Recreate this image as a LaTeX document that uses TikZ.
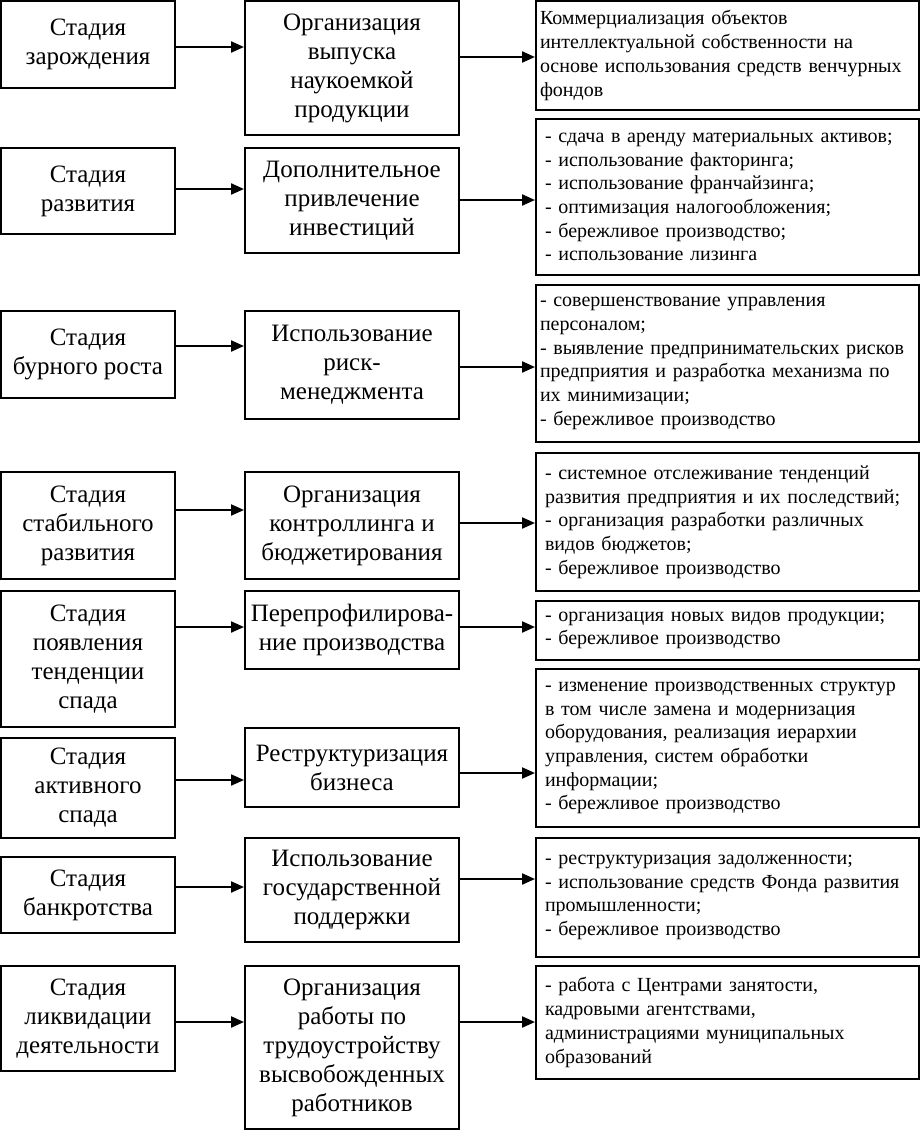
\documentclass[tikz,border=0pt]{standalone}
\usepackage{fontspec}
\setmainfont{Liberation Serif}
\usetikzlibrary{arrows.meta}
\begin{document}
\begin{tikzpicture}[x=1pt,y=-1pt,
  lbox/.style={draw, line width=2pt, minimum width=174pt, inner xsep=2pt, align=center, font=\fontsize{25}{29}\selectfont},
  mbox/.style={draw, line width=2pt, minimum width=214pt, inner xsep=2pt, align=center, font=\fontsize{25}{29}\selectfont},
  rbox/.style={draw, line width=2pt, text width=365pt, inner xsep=9pt, align=left, font=\fontsize{20}{23.7}\selectfont},
  rboxn/.style={rbox, text width=375pt, inner xsep=4pt},
  arr/.style={line width=2.2pt, -{Triangle[length=13pt,width=11pt]}}
]
\useasboundingbox (0,0) rectangle (920,1130);
\fill[white] (0,0) rectangle (920,1130);

% left column
\node[lbox, minimum height=87pt]  (L1) at (88,44.5)  {Стадия\\зарождения};
\node[lbox, minimum height=86pt]  (L2) at (88,191)   {Стадия\\развития};
\node[lbox, minimum height=87pt]  (L3) at (88,354.5) {Стадия\\бурного роста};
\node[lbox, minimum height=107pt] (L4) at (88,525.5) {Стадия\\стабильного\\развития};
\node[lbox, minimum height=136pt] (L5) at (88,659)   {Стадия\\появления\\тенденции\\спада};
\node[lbox, minimum height=100pt] (L6) at (88,788)   {Стадия\\активного\\спада};
\node[lbox, minimum height=76pt]  (L7) at (88,895)   {Стадия\\банкротства};
\node[lbox, minimum height=105pt] (L8) at (88,1018.5) {Стадия\\ликвидации\\деятельности};

% middle column
\node[mbox, minimum height=134pt] (M1) at (352,68)    {Организация\\выпуска\\наукоемкой\\продукции};
\node[mbox, minimum height=105pt] (M2) at (352,200.5) {Дополнительное\\привлечение\\инвестиций};
\node[mbox, minimum height=108pt] (M3) at (352,365)   {Использование\\риск-\\менеджмента};
\node[mbox, minimum height=107pt] (M4) at (352,525.5) {Организация\\контроллинга и\\бюджетирования};
\node[mbox, minimum height=78pt]  (M5) at (352,630)   {Перепрофилирова-\\ние производства};
\node[mbox, minimum height=79pt]  (M6) at (352,767.5) {Реструктуризация\\бизнеса};
\node[mbox, minimum height=104pt] (M7) at (352,890)   {Использование\\государственной\\поддержки};
\node[mbox, minimum height=163pt] (M8) at (352,1047.5) {Организация\\работы по\\трудоустройству\\высвобожденных\\работников};

% right column
\node[rboxn, minimum height=109pt] (R1) at (727.5,55.5) {Коммерциализация объектов\\интеллектуальной собственности на\\основе использования средств венчурных\\фондов};
\node[rbox, minimum height=156pt] (R2) at (727.5,197) {- сдача в аренду материальных активов;\\- использование факторинга;\\- использование франчайзинга;\\- оптимизация налогообложения;\\- бережливое производство;\\- использование лизинга};
\node[rboxn, minimum height=157pt] (R3) at (727.5,363.5) {- совершенствование управления\\персоналом;\\- выявление предпринимательских рисков\\предприятия и разработка механизма по\\их минимизации;\\- бережливое производство};
\node[rbox, minimum height=138pt] (R4) at (727.5,522) {- системное отслеживание тенденций\\развития предприятия и их последствий;\\- организация разработки различных\\видов бюджетов;\\- бережливое производство};
\node[rbox, minimum height=59pt] (R5) at (727.5,630.5) {- организация новых видов продукции;\\- бережливое производство};
\node[rbox, minimum height=158pt] (R6) at (727.5,748) {- изменение производственных структур\\в том числе замена и модернизация\\оборудования, реализация иерархии\\управления, систем обработки\\информации;\\- бережливое производство};
\node[rbox, minimum height=119pt] (R7) at (727.5,897.5) {- реструктуризация задолженности;\\- использование средств Фонда развития\\промышленности;\\- бережливое производство};
\node[rbox, minimum height=113pt] (R8) at (727.5,1022.5) {- работа с Центрами занятости,\\кадровыми агентствами,\\администрациями муниципальных\\образований};

% arrows left -> middle
\draw[arr] (L1.east |- 0,47)   -- (M1.west |- 0,47);
\draw[arr] (L2.east |- 0,189)  -- (M2.west |- 0,189);
\draw[arr] (L3.east |- 0,346)  -- (M3.west |- 0,346);
\draw[arr] (L4.east |- 0,510)  -- (M4.west |- 0,510);
\draw[arr] (L5.east |- 0,627)  -- (M5.west |- 0,627);
\draw[arr] (L6.east |- 0,780)  -- (M6.west |- 0,780);
\draw[arr] (L7.east |- 0,887)  -- (M7.west |- 0,887);
\draw[arr] (L8.east |- 0,1022) -- (M8.west |- 0,1022);

% arrows middle -> right
\draw[arr] (M1.east |- 0,57)   -- (R1.west |- 0,57);
\draw[arr] (M2.east |- 0,200)  -- (R2.west |- 0,200);
\draw[arr] (M3.east |- 0,367)  -- (R3.west |- 0,367);
\draw[arr] (M4.east |- 0,523)  -- (R4.west |- 0,523);
\draw[arr] (M5.east |- 0,627)  -- (R5.west |- 0,627);
\draw[arr] (M6.east |- 0,773)  -- (R6.west |- 0,773);
\draw[arr] (M7.east |- 0,879)  -- (R7.west |- 0,879);
\draw[arr] (M8.east |- 0,1022) -- (R8.west |- 0,1022);
\end{tikzpicture}
\end{document}
